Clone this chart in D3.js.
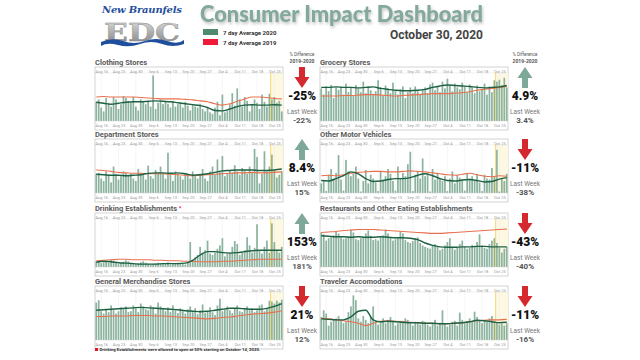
<!DOCTYPE html>
<html>
<head>
<meta charset="utf-8">
<script src="https://cdn.jsdelivr.net/npm/d3@7"></script>
<style>
  body { margin: 0; background: #fff; }
  svg { display: block; font-family: Roboto, "Open Sans", sans-serif; }
</style>
</head>
<body>
<svg id="dash" width="640" height="360"></svg>
<script>
// ---- data (daily bars Aug 14 - Oct 28, lines sampled every 3rd day) ----
var clothingBars = [40,45,28,20,48,38,30, 50,45,25,35,52,48,42, 38,50,30,22,45,42,35, 40,30,95,25,38,45,35,
  40,36,28,42,30,35,38, 28,40,32,22,35,30,28, 36,25,20,30,18,15,28, 40,12,55,18,22,35,58,
  32,68,45,30,50,42,20, 35,45,38,25,55,40,30, 57,45,50,38,42,20];
var clothing2020 = [39,37,35,37,39,40,40,41,42,41,40,38,36,34,32,28,22,21,25,30,33,34,33,33,34,33];
var clothing2019 = [50,51,50,50,50,50,49,48,47,46,46,46,45,44,42,40,36,33,36,41,46,50,50,49,47,46];

var groceryBars = [68,55,72,62,75,48,70, 65,72,55,78,60,70,52, 75,68,60,82,58,72,64, 55,62,85,70,52,74,68,
  58,80,62,55,66,72,48, 60,70,58,72,62,55,66, 70,58,76,80,64,72,60, 82,68,88,75,62,78,70,
  66,80,72,60,76,70,58, 74,62,66,78,55,72,60, 85,82,86,75,90,70];
var grocery2020 = [70,70,71,70,70,69,70,71,68,66,64,63,63,64,66,70,73,75,74,73,72,70,69,70,71,74];
var grocery2019 = [52,52,52,53,53,54,55,55,54,53,52,53,54,55,56,57,57,57,58,59,61,64,66,68,70,72];

var departmentBars = [40,42,30,25,45,38,22, 55,40,28,35,45,42,38, 40,30,25,50,42,38,28, 57,35,30,48,42,55,40,
  30,84,38,25,45,40,35, 28,42,38,30,45,35,30, 40,50,30,25,45,55,38, 70,45,77,35,40,48,42,
  58,45,38,52,48,40,55, 42,92,75,20,40,87,45, 55,80,48,32,38,45];
var department2020 = [39,38,37,37,36,37,38,41,42,42,41,42,40,37,38,40,43,46,47,48,48,48,47,47,48,50];
var department2019 = [48,47,45,43,42,41,41,40,40,40,39,38,37,36,37,38,39,40,41,42,42,43,42,42,43,44];

var motorBars = [20,25,4,38,50,30,42, 79,28,5,69,45,35,40, 55,30,3,25,48,20,38, 30,22,4,45,28,35,50,
  40,25,5,55,30,42,35, 60,86,4,38,45,30,72, 35,40,3,50,28,42,30, 25,35,4,30,45,20,38,
  32,28,5,42,30,35,25, 40,22,4,38,30,28,52, 35,90,3,30,25,40];
var motor2020 = [26,25,30,36,44,40,30,24,25,28,30,30,32,37,40,36,30,26,25,27,28,26,23,24,29,32];
var motor2019 = [36,37,36,38,41,43,44,45,45,44,44,45,46,45,44,42,40,38,37,39,41,38,35,34,36,35];

var drinkingBars = [12,14,8,10,12,9,15, 13,10,6,8,11,14,12, 9,7,6,8,10,12,9, 7,5,6,8,9,7,6,
  8,10,5,6,7,9,8, 6,5,10,52,15,20,25, 42,30,35,55,28,25,30, 38,45,60,22,28,30,42,
  54,48,25,30,35,62,45, 30,40,89,35,28,42,55, 30,91,52,35,30,42];
var drinking2020 = [10,12,11,9,8,7,6,6,6,7,7,7,8,14,25,32,32,30,29,30,32,34,35,35,35,35];
var drinking2019 = [13,14,15,16,16,15,15,15,14,14,13,13,12,12,11,11,11,12,12,13,14,15,16,16,16,16];

var restaurantBars = [72,68,55,60,62,66,75, 70,62,58,60,64,78,72, 58,56,60,62,70,76,65, 56,58,55,62,66,78,70,
  60,55,58,62,74,70,56, 52,50,54,60,62,50,45, 42,40,38,45,48,42,35, 38,45,52,60,42,36,40,
  48,55,42,38,40,46,44, 52,68,45,40,38,48,55, 60,50,40,30,38,42];
var restaurant2020 = [65,64,63,63,62,63,62,62,63,62,61,61,60,57,50,45,42,41,41,42,42,43,43,42,42,42];
var restaurant2019 = [72,73,74,76,77,78,78,78,77,76,75,74,73,72,71,70,70,71,72,73,74,75,76,77,78,79];

var merchBars = [78,83,60,55,65,58,72, 62,55,60,68,64,70,58, 60,72,66,58,76,70,64, 62,72,68,55,78,70,64,
  60,68,58,72,62,56,66, 60,55,64,70,58,66,54, 62,74,56,60,68,58,52, 72,86,60,64,70,62,56,
  66,72,60,58,64,70,62, 66,58,62,72,74,60,66, 82,80,76,82,78,84];
var merch2020 = [62,63,64,65,66,67,68,67,66,65,64,63,61,60,59,60,62,64,66,66,65,64,64,66,70,76];
var merch2019 = [49,49,50,50,50,51,51,51,50,50,49,48,47,46,45,44,45,47,48,50,52,54,55,56,58,61];

var travelBars = [48,62,55,30,38,42,45, 50,40,35,38,58,70,93, 83,45,38,50,42,35,48, 70,40,32,38,45,35,42,
  48,38,30,35,40,38,45, 42,35,30,38,36,32,40, 38,32,28,35,42,30,36, 62,35,28,32,38,40,30,
  57,42,35,38,45,40,59, 48,40,35,42,38,45,50, 40,36,32,34,30,35];
var travel2020 = [44,43,42,42,48,60,62,42,38,39,38,37,36,36,35,35,34,34,35,36,38,41,40,38,36,37];
var travel2019 = [45,44,42,40,38,35,30,35,39,40,39,38,37,36,35,35,34,34,35,36,38,40,41,42,42,43];

var panelNames = ['Clothing Stores', 'Department Stores', 'Drinking Establishments', 'General Merchandise Stores',
  'Grocery Stores', 'Other Motor Vehicles', 'Restaurants and Other Eating Establishments', 'Traveler Accomodations'];
var pctChange = ['-25%', '8.4%', '153%', '21%', '4.9%', '-11%', '-43%', '-11%'];
var lastWeek = ['-22%', '15%', '181%', '12%', '3.4%', '-38%', '-40%', '-16%'];
var arrowDir = ['down', 'up', 'up', 'down', 'up', 'down', 'down', 'down'];

var panels = [
  {bars: clothingBars, y20: clothing2020, y19: clothing2019, col: 0, row: 0},
  {bars: departmentBars, y20: department2020, y19: department2019, col: 0, row: 1},
  {bars: drinkingBars, y20: drinking2020, y19: drinking2019, col: 0, row: 2, star: true},
  {bars: merchBars, y20: merch2020, y19: merch2019, col: 0, row: 3},
  {bars: groceryBars, y20: grocery2020, y19: grocery2019, col: 1, row: 0},
  {bars: motorBars, y20: motor2020, y19: motor2019, col: 1, row: 1},
  {bars: restaurantBars, y20: restaurant2020, y19: restaurant2019, col: 1, row: 2},
  {bars: travelBars, y20: travel2020, y19: travel2019, col: 1, row: 3}
];

// ---- layout ----
var svg = d3.select('#dash');
var colX = [[95, 283], [320, 508]];
var rowY = [65, 137, 211, 284];
var pctX = [302, 525];
var dayStart = new Date(2020, 7, 14), dayEnd = new Date(2020, 9, 29);
var days = d3.timeDay.range(dayStart, dayEnd);
var lineIdx = d3.range(0, days.length, 3);
var highlightDay = new Date(2020, 9, 24);
var fmt = d3.timeFormat('%b %-d');

var defs = svg.append('defs');
var shadow = defs.append('filter').attr('id', 'shadow').attr('x', '-10%').attr('y', '-30%').attr('width', '120%').attr('height', '170%');
shadow.append('feDropShadow').attr('dx', 1).attr('dy', 2).attr('stdDeviation', 1.6)
  .attr('flood-color', '#888').attr('flood-opacity', 0.5);
var grad = defs.append('linearGradient').attr('id', 'edc').attr('x1', 0).attr('y1', 0).attr('x2', 0).attr('y2', 1);
grad.append('stop').attr('offset', '0%').attr('stop-color', '#e2e2e2');
grad.append('stop').attr('offset', '55%').attr('stop-color', '#a9a9a9');
grad.append('stop').attr('offset', '100%').attr('stop-color', '#7d7d7d');

// ---- header ----
svg.append('text').attr('x', 142).attr('y', 13).attr('text-anchor', 'middle')
  .style('font-family', '"DejaVu Serif", serif').style('font-style', 'italic').style('font-weight', 'bold')
  .style('font-size', '10px').attr('fill', '#1f4f9c').attr('textLength', 80).text('New Braunfels');
svg.append('text').attr('x', 142).attr('y', 41).attr('text-anchor', 'middle')
  .style('font-family', '"DejaVu Serif", serif').style('font-weight', 'bold').style('font-size', '25px')
  .attr('fill', 'url(#edc)').attr('stroke', '#8a8a8a').attr('stroke-width', 0.4)
  .attr('textLength', 76).attr('lengthAdjust', 'spacingAndGlyphs').text('EDC');
svg.append('path').attr('d', 'M101,42 Q112,37 123,41 T145,41 T167,41 T184,40 L184,44 Q173,48 162,44 T140,44 T118,45 T101,46 Z')
  .attr('fill', '#1f4f9c');

svg.append('text').attr('x', 200).attr('y', 22)
  .style('font-family', 'Lato, Roboto, sans-serif').style('font-weight', 900).style('font-size', '22px')
  .attr('fill', '#82a99b').attr('filter', 'url(#shadow)')
  .attr('textLength', 283).attr('lengthAdjust', 'spacingAndGlyphs').text('Consumer Impact Dashboard');

var legendItems = [['7 day Average 2020', '#4d8a6e'], ['7 day Average 2019', '#ef1a3a']];
legendItems.forEach(function(d, i) {
  svg.append('rect').attr('x', 203).attr('y', 29 + i * 10).attr('width', 15).attr('height', 6).attr('fill', d[1]);
  svg.append('text').attr('x', 223).attr('y', 35 + i * 10).style('font-size', '6px').style('font-weight', 'bold')
    .attr('fill', '#333').text(d[0]);
});
svg.append('text').attr('x', 483).attr('y', 38.5).attr('text-anchor', 'end')
  .style('font-size', '12px').style('font-weight', 'bold').attr('fill', '#444').text('October 30, 2020');

pctX.forEach(function(cx) {
  svg.append('text').attr('x', cx).attr('y', 56).attr('text-anchor', 'middle').style('font-size', '4.5px')
    .attr('fill', '#555').text('% Difference');
  svg.append('text').attr('x', cx).attr('y', 62.5).attr('text-anchor', 'middle').style('font-size', '5px')
    .style('font-weight', 'bold').attr('fill', '#555').text('2019-2020');
});

// ---- panels ----
panels.forEach(function(p, k) {
  var x0 = colX[p.col][0], x1 = colX[p.col][1], ty = rowY[p.row];
  var top = ty + 8, base = ty + 56;
  var x = d3.scaleTime().domain([dayStart, dayEnd]).range([x0, x1]);
  var y = d3.scaleLinear().domain([0, 100]).range([base, top]);
  var bw = (x1 - x0) / days.length;
  var g = svg.append('g');

  var title = g.append('text').attr('x', x0).attr('y', ty).style('font-size', '7.5px').style('font-weight', 'bold')
    .attr('fill', '#5a5a5a').text(panelNames[k]);
  if (p.star) title.append('tspan').attr('fill', '#e8112d').attr('dy', -1).style('font-size', '6px').text(' *');

  g.append('rect').attr('x', x0).attr('y', ty + 2).attr('width', x1 - x0).attr('height', base + 9 - ty - 2)
    .attr('fill', 'none').attr('stroke', '#c9c9c9').attr('stroke-width', 0.8);
  g.append('rect').attr('x', x(highlightDay)).attr('y', top).attr('width', x1 - x(highlightDay)).attr('height', base - top)
    .attr('fill', '#fdf8e1');

  g.selectAll('line.grid').data(d3.timeWeek.range(dayStart, dayEnd)).enter().append('line')
    .attr('class', 'grid')
    .attr('x1', function(d) { return x(d) + bw / 2; }).attr('x2', function(d) { return x(d) + bw / 2; })
    .attr('y1', top).attr('y2', base).attr('stroke', '#ececec').attr('stroke-width', 0.5);
  g.append('line').attr('x1', x0).attr('x2', x1).attr('y1', top).attr('y2', top).attr('stroke', '#e3e3e3').attr('stroke-width', 0.5);

  g.selectAll('rect.bar').data(p.bars).enter().append('rect')
    .attr('class', 'bar')
    .attr('x', function(d, i) { return x(days[i]) + bw * 0.15; })
    .attr('width', bw * 0.7)
    .attr('y', function(d) { return y(d); })
    .attr('height', function(d) { return base - y(d); })
    .attr('fill', '#8cb39f');

  g.append('line').attr('x1', x(highlightDay)).attr('x2', x(highlightDay)).attr('y1', top).attr('y2', base)
    .attr('stroke', '#f0d465').attr('stroke-width', 0.9);
  g.append('line').attr('x1', x0).attr('x2', x1).attr('y1', base).attr('y2', base).attr('stroke', '#cfcfcf').attr('stroke-width', 0.5);

  var line = d3.line()
    .x(function(d, j) { return x(days[lineIdx[j]]) + bw / 2; })
    .y(function(d) { return y(d); })
    .curve(d3.curveMonotoneX);
  g.append('path').datum(p.y19).attr('d', line).attr('fill', 'none').attr('stroke', '#e9704f').attr('stroke-width', 1.1);
  g.append('path').datum(p.y20).attr('d', line).attr('fill', 'none').attr('stroke', '#1e6142').attr('stroke-width', 1.4);

  var topAxis = d3.axisTop(x).ticks(d3.timeWeek.every(1)).tickFormat(fmt).tickSize(0).tickPadding(0);
  var botAxis = d3.axisBottom(x).ticks(d3.timeWeek.every(1)).tickFormat(fmt).tickSize(0).tickPadding(0);
  [[topAxis, ty + 7.5], [botAxis, base + 3]].forEach(function(a) {
    var ag = g.append('g').attr('transform', 'translate(' + (bw / 2) + ',' + a[1] + ')').call(a[0]);
    ag.select('.domain').remove();
    ag.selectAll('text').style('font-size', '4px').style('font-family', 'Roboto, sans-serif').attr('fill', '#9a9a9a');
  });

  // % difference column
  var cx = pctX[p.col], at = ty + 2;
  var up = arrowDir[k] === 'up';
  var pts = up
    ? [[0, 0], [7.5, 11], [3, 11], [3, 21], [-3, 21], [-3, 11], [-7.5, 11]]
    : [[-3, 0], [3, 0], [3, 10], [7.5, 10], [0, 21], [-7.5, 10], [-3, 10]];
  g.append('polygon')
    .attr('points', pts.map(function(q) { return (cx + q[0]) + ',' + (at + q[1]); }).join(' '))
    .attr('fill', up ? '#7ea898' : '#d42a2f');
  g.append('text').attr('x', cx).attr('y', ty + 35).attr('text-anchor', 'middle').style('font-size', '12px')
    .style('font-weight', 900).attr('fill', '#111').text(pctChange[k]);
  g.append('text').attr('x', cx).attr('y', ty + 49).attr('text-anchor', 'middle').style('font-size', '6.5px')
    .attr('fill', '#777').text('Last Week');
  g.append('text').attr('x', cx).attr('y', ty + 58).attr('text-anchor', 'middle').style('font-size', '8px')
    .style('font-weight', 'bold').attr('fill', '#555').text(lastWeek[k]);
});

// ---- footnote ----
svg.append('rect').attr('x', 95).attr('y', 348).attr('width', 3).attr('height', 3).attr('fill', '#e8112d');
svg.append('text').attr('x', 99.5).attr('y', 351).style('font-size', '4.3px').style('font-weight', 'bold')
  .attr('fill', '#333').text('Drinking Establishments were allowed to open at 50% starting on October 14, 2020.');
</script>
</body>
</html>
